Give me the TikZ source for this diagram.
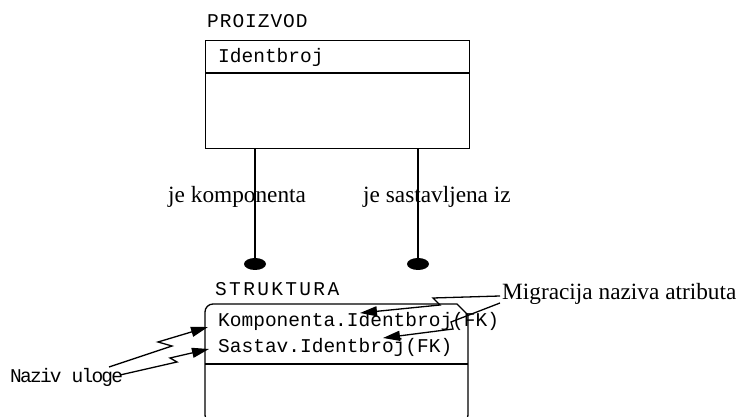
\documentclass[tikz,border=0pt]{standalone}
\usepackage{fontspec}
\setmainfont{Liberation Serif}
\newfontfamily\monof{Liberation Mono}
\usetikzlibrary{arrows.meta,shapes.geometric}
\tikzset{
  mtext/.style={inner sep=0pt, anchor=base west, font=\monof\fontsize{19.5}{23}\selectfont},
  stext/.style={inner sep=0pt, anchor=base west, font=\fontsize{23.3}{27}\selectfont},
  ln/.style={line width=1.3pt},
  dotnode/.style={fill=black, ellipse, minimum width=22pt, minimum height=12pt, inner sep=0pt},
  zarrow/.style={line width=1.3pt, -{Triangle[length=17pt,width=10pt]}},
}
\begin{document}
\begin{tikzpicture}[x=1pt,y=1pt]
\useasboundingbox (0,0) rectangle (738,417);
\clip (0,0) rectangle (738,417);
% PROIZVOD entity
\node[mtext, font=\monof\fontsize{19.5}{23}\selectfont\addfontfeature{LetterSpace=5}] (tproizvod) at (207,389) {PROIZVOD};
\node[draw, ln, minimum width=264pt, minimum height=108pt, anchor=north west, inner sep=0pt] (proizvod) at (205,377) {};
\coordinate (psepL) at (205,344);
\coordinate (psepR) at (469,344);
\draw[ln] (psepL) -- (psepR);
\node[mtext] (identbroj) at (218,354) {Identbroj};
% relationships
\node[dotnode] (dotL) at (255,153) {};
\node[dotnode] (dotR) at (418,153) {};
\draw[ln] (proizvod.south -| dotL) -- (dotL.center);
\draw[ln] (proizvod.south -| dotR) -- (dotR.center);
\node[stext] (rkomp) at (168,214) {je komponenta};
\node[stext] (rsast) at (363,214) {je sastavljena iz};
% STRUKTURA entity
\node[mtext, font=\monof\fontsize{19.5}{23}\selectfont\addfontfeature{LetterSpace=12}] (tstruktura) at (215,121) {STRUKTURA};
\draw[ln] (205,-6) [rounded corners=8pt] -- (205,113) [sharp corners] -- (457,113) -- (468,102) [rounded corners=8pt] -- (468,-6) -- cycle;
\coordinate (ssepL) at (205,53);
\coordinate (ssepR) at (468,53);
\draw[ln] (ssepL) -- (ssepR);
\node[mtext] (akomp) at (218,90) {Komponenta.Identbroj(FK)};
\node[mtext] (asast) at (218,64) {Sastav.Identbroj(FK)};
% callouts
\node[mtext, font=\monof\fontsize{19.5}{23}\selectfont\addfontfeature{LetterSpace=-9}] (naziv) at (10,34) {Naziv uloge};
\node[stext] (migr) at (502,117) {Migracija naziva atributa};
\coordinate (n1a) at (109,50);
\coordinate (n1b) at (172,71);
\coordinate (n1c) at (158,75);
\coordinate (n1t) at (208,90);
\coordinate (n2a) at (120,42);
\coordinate (n2b) at (177,55);
\coordinate (n2c) at (170,59);
\coordinate (n2t) at (209,68);
\draw[zarrow] (n1a) -- (n1b) -- (n1c) -- (n1t);
\draw[zarrow] (n2a) -- (n2b) -- (n2c) -- (n2t);
\coordinate (m1a) at (500,121);
\coordinate (m1b) at (433,119);
\coordinate (m1c) at (440,112);
\coordinate (m1t) at (360,104);
\coordinate (m2a) at (500,114);
\coordinate (m2b) at (451,95);
\coordinate (m2c) at (453,88);
\coordinate (m2t) at (383,79);
\draw[zarrow] (m1a) -- (m1b) -- (m1c) -- (m1t);
\draw[zarrow] (m2a) -- (m2b) -- (m2c) -- (m2t);
\end{tikzpicture}
\end{document}
